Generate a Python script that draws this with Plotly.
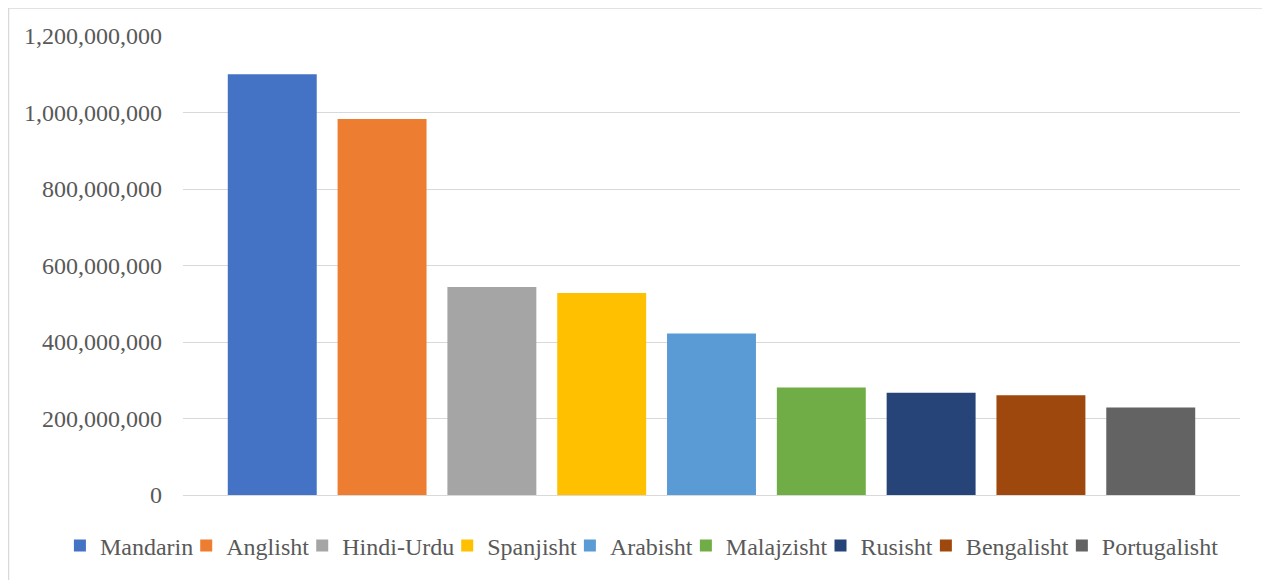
import plotly.graph_objects as go

languages = ["Mandarin", "Anglisht", "Hindi-Urdu", "Spanjisht", "Arabisht",
             "Malajzisht", "Rusisht", "Bengalisht", "Portugalisht"]
speakers = [1100000000, 983000000, 544000000, 528000000, 422000000,
            281000000, 267000000, 261000000, 229000000]
colors = ["#4472C4", "#ED7D31", "#A5A5A5", "#FFC000", "#5B9BD5",
          "#70AD47", "#264478", "#9E480E", "#636363"]

fig = go.Figure()
for name, val, col in zip(languages, speakers, colors):
    fig.add_trace(go.Bar(x=["Gjuhët"], y=[val], name=name,
                         marker=dict(color=col, line=dict(width=0))))

fig.update_layout(
    width=1262, height=572,
    margin=dict(l=175, r=30, t=28, b=85),
    paper_bgcolor="white", plot_bgcolor="white",
    barmode="group", bargap=0.065, bargroupgap=0.19,
    font=dict(family="Liberation Serif", color="#595959", size=24),
    showlegend=True,
    legend=dict(orientation="h", x=-0.1051, xanchor="left", y=-0.111, yanchor="middle",
                font=dict(size=24, color="#595959"), itemwidth=30, indentation=-12,
                bgcolor="rgba(0,0,0,0)"),
    shapes=[dict(type="rect", xref="paper", yref="paper",
                 x0=-0.1651, x1=1.0246, y0=-0.25, y1=1.0610,
                 line=dict(color="#D9D9D9", width=1.5), layer="below")],
)
fig.update_xaxes(showticklabels=False, showgrid=False, zeroline=False, showline=False,
                 ticks="")
fig.update_yaxes(range=[0, 1200000000], dtick=200000000, tickformat=",",
                 showgrid=True, gridcolor="#D9D9D9", gridwidth=1,
                 zeroline=True, zerolinecolor="#D9D9D9", zerolinewidth=1,
                 showline=False, ticks="", ticklabelstandoff=20,
                 tickfont=dict(size=24, color="#595959", family="Liberation Serif"))

fig.write_html("out.html")
